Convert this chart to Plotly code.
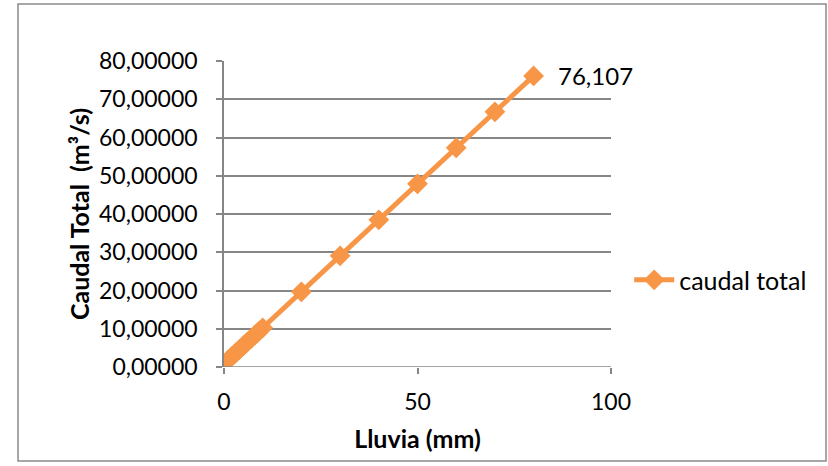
import plotly.graph_objects as go

lluvia = [1, 2, 3, 4, 5, 6, 7, 8, 9, 10, 20, 30, 40, 50, 60, 70, 80]
caudal = [1.78, 2.72, 3.66, 4.60, 5.55, 6.49, 7.43, 8.37, 9.31, 10.25,
          19.66, 29.07, 38.49, 47.90, 57.31, 66.72, 76.107]
series_name = "caudal total"
x_title = "Lluvia (mm)"
y_title = "Caudal Total&nbsp;&nbsp;(m³/s)"
y_ticks = [0, 10, 20, 30, 40, 50, 60, 70, 80]
y_ticklabels = [f"{v},00000" for v in y_ticks]
x_ticks = [0, 50, 100]

orange = "#F79646"
grid = "#868686"
font_family = "Lato, 'Open Sans', sans-serif"

fig = go.Figure()
fig.add_trace(go.Scatter(
    x=lluvia, y=caudal, mode="lines+markers", name=series_name,
    line=dict(color=orange, width=5),
    marker=dict(symbol="diamond", size=16, color=orange),
))

last_label = f"{caudal[-1]:.3f}".replace(".", ",")
fig.add_annotation(x=lluvia[-1], y=caudal[-1], xref="x", yref="y",
                   text=last_label, showarrow=False, xanchor="left",
                   xshift=22, yshift=0,
                   font=dict(family=font_family, size=24, color="#000"))

fig.update_layout(
    width=828, height=466,
    margin=dict(l=224, r=217, t=61, b=99),
    paper_bgcolor="white", plot_bgcolor="white",
    font=dict(family=font_family, size=23, color="#000"),
    showlegend=True,
    legend=dict(x=1.047, y=0.284, xanchor="left", yanchor="middle",
                bgcolor="rgba(0,0,0,0)", font=dict(size=25),
                itemwidth=40),
    xaxis=dict(range=[0, 100], tickvals=x_ticks, showgrid=False,
               zeroline=False, showline=False, ticks="outside",
               ticklen=6, tickcolor=grid, tickwidth=1.5,
               tickfont=dict(size=23), ticklabelstandoff=8,
               title=dict(text=f"<b>{x_title}</b>", font=dict(size=25), standoff=16)),
    yaxis=dict(range=[0, 80], tickvals=y_ticks, ticktext=y_ticklabels,
               showgrid=True, gridcolor=grid, gridwidth=1.5,
               zeroline=False, showline=True, linecolor=grid, linewidth=1.5,
               ticks="outside", ticklen=6, tickcolor=grid, tickwidth=1.5,
               tickfont=dict(size=23), ticklabelstandoff=14,
               title=dict(text=f"<b>{y_title}</b>", font=dict(size=25), standoff=2)),
)

# x axis baseline (0 gridline)
fig.add_shape(type="line", xref="paper", yref="y", x0=0, x1=1, y0=0, y1=0,
              line=dict(color=grid, width=1.5))

# chart outer border
fig.add_shape(type="rect", xref="paper", yref="paper",
              x0=(18 - 224) / 387, x1=(826 - 224) / 387,
              y0=(367 - 461) / 306, y1=(367 - 4) / 306,
              line=dict(color="#8a8a8a", width=1.5), fillcolor="rgba(0,0,0,0)",
              layer="below")

fig.write_html("out.html")
